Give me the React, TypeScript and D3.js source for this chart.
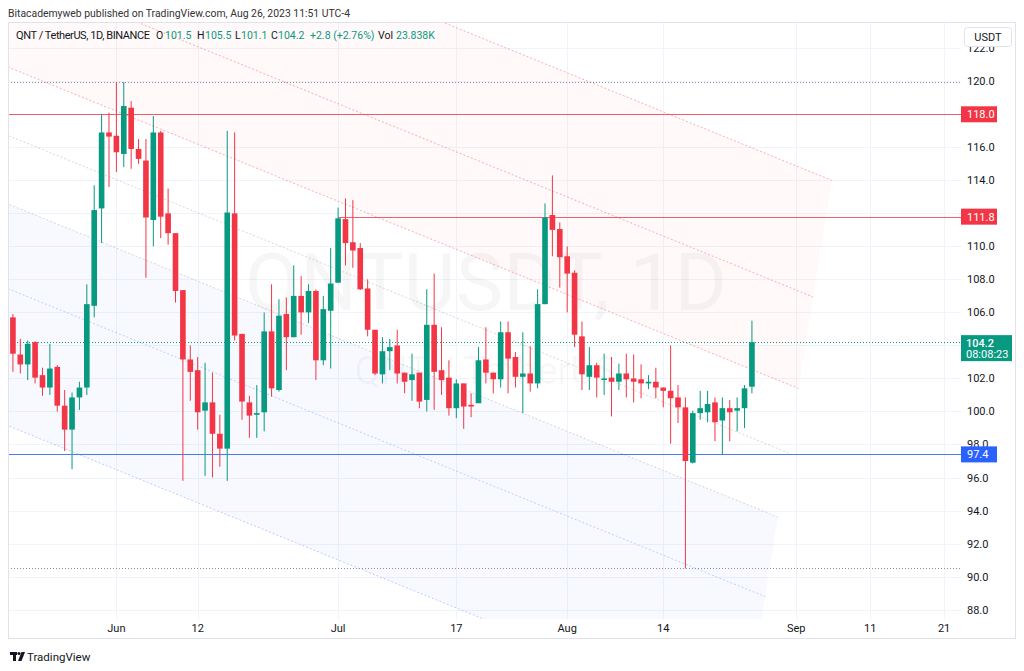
import React, { useEffect, useRef } from "react";
import * as d3 from "d3";

const DAY = 864e5;
const FONT = "Roboto, 'Liberation Sans', sans-serif";
const GREEN = "#089981";
const RED = "#f23645";
const BLUE = "#2962ff";
const TEXT = "#131722";

// daily candles QNT/USDT, first candle 2023-05-18
const firstDay = Date.UTC(2023, 4, 18);
const opens = [
  105.7, 103.45, 102.85, 104.2, 102.2, 101.45, 102.7, 100.35, 98.9, 100.85,
  101.45, 106.4, 112.3, 116.9, 116.7, 115.6, 118.4, 115.9, 115.2, 111.6,
  116.9, 112.0, 110.8, 107.35, 103.15, 102.5, 100.05, 100.55, 98.65, 97.75,
  112.0, 104.7, 100.55, 99.8, 99.95, 104.85, 101.3, 105.9, 104.5, 107.0,
  106.0, 107.3, 103.1, 106.1, 107.8, 111.65, 110.25, 109.9, 107.45, 104.95,
  102.25, 103.65, 104.0, 102.35, 101.9, 102.35, 100.7, 105.25, 102.5, 102.05,
  100.2, 101.7, 100.4, 100.5, 103.15, 102.35, 101.95, 104.8, 103.3, 102.1,
  102.3, 101.7, 106.5, 111.9, 111.05, 109.4, 108.4, 104.55, 102.1, 102.8,
  101.95, 102.05, 101.8, 102.3, 102.0, 101.95, 101.7, 101.8, 101.45, 101.25,
  100.85, 100.25, 96.9, 99.9, 99.95, 100.55, 99.45, 100.2, 100.05, 100.2, 101.5,
];
const highs = [
  105.9, 104.4, 104.3, 104.25, 102.65, 104.1, 102.8, 101.3, 101.15, 101.8,
  107.7, 113.7, 118.0, 118.1, 119.95, 119.95, 118.8, 116.5, 116.5, 117.9,
  117.0, 113.5, 110.8, 107.35, 104.0, 103.3, 102.95, 102.35, 99.8, 117.0,
  116.9, 104.7, 100.95, 101.6, 106.0, 107.7, 106.8, 106.9, 108.85, 108.2,
  107.7, 107.4, 107.0, 109.9, 112.35, 112.9, 112.8, 110.2, 108.0, 104.95,
  104.5, 104.4, 104.95, 102.35, 103.5, 102.35, 107.4, 108.35, 105.1, 103.1,
  101.95, 101.7, 101.1, 103.9, 105.1, 102.35, 105.45, 105.45, 103.6, 104.8,
  103.95, 107.4, 112.6, 114.3, 111.45, 110.0, 108.55, 105.45, 103.9, 102.95,
  103.5, 103.3, 102.9, 103.5, 103.45, 102.85, 102.2, 102.65, 101.45, 104.0,
  101.6, 100.85, 100.05, 101.25, 101.25, 100.85, 100.85, 100.7, 100.85, 101.6, 105.5,
];
const lows = [
  102.4, 102.3, 101.9, 101.7, 100.95, 101.0, 100.0, 97.6, 96.5, 100.1,
  101.0, 105.7, 110.2, 113.6, 114.5, 114.8, 114.7, 115.0, 108.1, 110.0,
  110.5, 110.1, 106.6, 95.8, 100.65, 98.9, 96.1, 96.0, 96.65, 95.8,
  104.3, 99.5, 98.4, 98.4, 98.8, 100.9, 101.2, 102.5, 104.5, 104.65,
  105.35, 101.9, 102.8, 102.6, 107.8, 108.85, 108.7, 107.35, 104.55, 102.2,
  101.7, 102.5, 101.7, 101.1, 100.65, 100.2, 100.0, 100.1, 101.0, 99.75,
  99.6, 98.95, 99.65, 100.5, 101.7, 101.1, 101.45, 101.1, 101.45, 99.9,
  101.2, 101.4, 106.5, 109.4, 107.5, 106.0, 103.9, 101.3, 101.3, 100.85,
  101.0, 99.7, 101.3, 100.85, 100.55, 100.8, 101.35, 100.8, 100.25, 98.05,
  99.3, 90.5, 96.85, 99.5, 99.35, 98.2, 97.4, 98.2, 98.8, 99.0, 101.1,
];
const closes = [
  103.5, 102.85, 104.1, 102.05, 101.45, 102.6, 100.35, 98.9, 100.85, 101.45,
  106.5, 112.2, 116.9, 116.65, 115.7, 118.5, 115.9, 115.3, 111.75, 116.9,
  111.8, 110.8, 107.3, 103.15, 102.4, 99.95, 100.55, 98.65, 97.75, 112.05,
  104.6, 100.6, 99.75, 99.9, 104.85, 101.4, 105.8, 104.5, 107.0, 106.0,
  107.3, 103.1, 106.2, 107.75, 111.7, 110.2, 109.75, 107.4, 104.95, 102.3,
  103.65, 103.9, 102.3, 101.8, 102.25, 100.6, 105.25, 102.4, 101.9, 100.2,
  101.7, 100.3, 100.3, 103.1, 102.35, 101.95, 104.8, 103.2, 102.1, 102.3,
  101.7, 106.5, 111.75, 111.0, 109.35, 108.35, 104.65, 102.25, 102.8, 102.05,
  102.0, 101.8, 102.3, 101.95, 101.8, 101.7, 101.8, 101.45, 101.25, 100.8,
  100.25, 97.0, 99.9, 100.2, 100.45, 99.35, 100.2, 99.95, 100.2, 101.4, 104.2,
];

const volumeLabel = "23.838K";
const countdown = "08:08:23";

const timeTicks = [
  "2023-06-01", "2023-06-12", "2023-07-01", "2023-07-17", "2023-08-01",
  "2023-08-14", "2023-09-01", "2023-09-11", "2023-09-21",
];
const timeTickLabels = ["Jun", "12", "Jul", "17", "Aug", "14", "Sep", "11", "21"];
const priceTicks = d3.range(88, 123, 2);

// horizontal lines drawn on the chart
const levelPrices = [118.0, 111.8, 97.4];
const levelStarts = [null, "2023-07-01", null];
const levelColors = [RED, RED, BLUE];
const rangeHigh = 119.95;
const rangeLow = 90.5;

// fib channel: base line + shift of level 1
const fibStart = { date: "2023-05-03", price: 101.75 };
const fibEnd = { date: "2023-08-25", price: 81.0 };
const fibShiftDays = 11.8;
const fibShiftPrice = 33.0;
const fibLevels = [0, 0.236, 0.382, 0.5, 0.618, 0.786, 1];
const fibLineColors = [
  "rgba(41,98,255,0.3)", "rgba(41,98,255,0.28)", "rgba(120,123,134,0.3)",
  "rgba(120,123,134,0.3)", "rgba(242,54,69,0.4)", "rgba(242,54,69,0.4)", "rgba(242,54,69,0.4)",
];
const fibBandFills = [
  "rgba(41,98,255,0.035)", "rgba(41,98,255,0.035)", "none", "none",
  "rgba(242,54,69,0.03)", "rgba(242,54,69,0.03)",
];

const W = 1024;
const H = 671;
const plot = { left: 8, right: 961, top: 23, bottom: 619 };

const App = () => {
  const svgRef = useRef<SVGSVGElement>(null);

  useEffect(() => {
    const svg = d3.select(svgRef.current);
    svg.selectAll("*").remove();
    svg.attr("width", W).attr("height", H).style("font-family", FONT);

    const x = d3
      .scaleUtc()
      .domain([new Date(Date.UTC(2023, 4, 17, 8)), new Date(Date.UTC(2023, 8, 23, 7))])
      .range([plot.left, plot.right]);
    const y = d3.scaleLinear().domain([87.43, 123.53]).range([plot.bottom, plot.top]);

    const dates = opens.map((_, i) => new Date(firstDay + i * DAY));
    const step = x(dates[1]) - x(dates[0]);
    const bodyW = step * 0.76;
    const last = closes.length - 1;

    svg.append("rect").attr("width", W).attr("height", H).attr("fill", "#fff");

    // published caption
    svg
      .append("text")
      .attr("x", 8)
      .attr("y", 17)
      .attr("font-size", 10.4)
      .attr("fill", "#333")
      .text("Bitacademyweb published on TradingView.com, Aug 26, 2023 11:51 UTC-4");

    svg
      .append("defs")
      .append("clipPath")
      .attr("id", "plot-clip")
      .append("rect")
      .attr("x", plot.left)
      .attr("y", plot.top)
      .attr("width", plot.right - plot.left)
      .attr("height", plot.bottom - plot.top);

    const g = svg.append("g").attr("clip-path", "url(#plot-clip)");

    // grid
    g.append("g")
      .selectAll("line")
      .data(priceTicks)
      .join("line")
      .attr("x1", plot.left)
      .attr("x2", plot.right)
      .attr("y1", (d) => Math.round(y(d)) + 0.5)
      .attr("y2", (d) => Math.round(y(d)) + 0.5)
      .attr("stroke", "#f0f3fa");
    g.append("g")
      .selectAll("line")
      .data(timeTicks)
      .join("line")
      .attr("x1", (d) => Math.round(x(new Date(d))) + 0.5)
      .attr("x2", (d) => Math.round(x(new Date(d))) + 0.5)
      .attr("y1", plot.top)
      .attr("y2", plot.bottom)
      .attr("stroke", "#f0f3fa");

    // watermark
    g.append("text")
      .attr("x", 486)
      .attr("y", 310)
      .attr("text-anchor", "middle")
      .attr("font-size", 80)
      .attr("fill", "rgba(19,23,34,0.04)")
      .text("QNTUSDT, 1D");
    g.append("text")
      .attr("x", 486)
      .attr("y", 384)
      .attr("text-anchor", "middle")
      .attr("font-size", 38)
      .attr("fill", "rgba(19,23,34,0.04)")
      .text("QNT / TetherUS");

    // fib channel
    const t0 = +new Date(fibStart.date);
    const t1 = +new Date(fibEnd.date);
    const fibPt = (k: number, end: boolean): [number, number] => [
      x(new Date((end ? t1 : t0) + k * fibShiftDays * DAY)),
      y((end ? fibEnd.price : fibStart.price) + k * fibShiftPrice),
    ];
    const bands = fibBandFills.map((fill, i) => ({ fill, a: fibLevels[i], b: fibLevels[i + 1] }));
    g.append("g")
      .selectAll("path")
      .data(bands.filter((d) => d.fill !== "none"))
      .join("path")
      .attr("d", (d) =>
        d3.line()([fibPt(d.a, false), fibPt(d.a, true), fibPt(d.b, true), fibPt(d.b, false)]) + "Z"
      )
      .attr("fill", (d) => d.fill);
    g.append("g")
      .selectAll("line")
      .data(fibLevels)
      .join("line")
      .attr("x1", (k) => fibPt(k, false)[0])
      .attr("y1", (k) => fibPt(k, false)[1])
      .attr("x2", (k) => fibPt(k, true)[0])
      .attr("y2", (k) => fibPt(k, true)[1])
      .attr("stroke", (_, i) => fibLineColors[i])
      .attr("stroke-dasharray", "2,2");

    // high / low markers
    g.append("g")
      .selectAll("line")
      .data([rangeHigh, rangeLow])
      .join("line")
      .attr("x1", plot.left)
      .attr("x2", plot.right)
      .attr("y1", (d) => Math.round(y(d)) + 0.5)
      .attr("y2", (d) => Math.round(y(d)) + 0.5)
      .attr("stroke", "#8a8e9b")
      .attr("stroke-dasharray", "1,2");

    // horizontal levels
    g.append("g")
      .selectAll("line")
      .data(levelPrices)
      .join("line")
      .attr("x1", (_, i) => (levelStarts[i] ? x(new Date(levelStarts[i] as string)) : plot.left))
      .attr("x2", plot.right)
      .attr("y1", (d) => Math.round(y(d)) + 0.5)
      .attr("y2", (d) => Math.round(y(d)) + 0.5)
      .attr("stroke", (_, i) => levelColors[i])
      .attr("stroke-opacity", (_, i) => (i === 2 ? 0.85 : 0.8));

    // last price line
    g.append("line")
      .attr("x1", plot.left)
      .attr("x2", plot.right)
      .attr("y1", Math.round(y(closes[last])) + 0.5)
      .attr("y2", Math.round(y(closes[last])) + 0.5)
      .attr("stroke", GREEN)
      .attr("stroke-dasharray", "1,2");

    // candles
    const candles = dates.map((d, i) => ({
      d,
      o: opens[i],
      h: highs[i],
      l: lows[i],
      c: closes[i],
    }));
    const cg = g.append("g").selectAll("g").data(candles).join("g");
    cg.append("line")
      .attr("x1", (d) => x(d.d))
      .attr("x2", (d) => x(d.d))
      .attr("y1", (d) => y(d.h))
      .attr("y2", (d) => y(d.l))
      .attr("stroke", (d) => (d.c >= d.o ? GREEN : RED))
      .attr("stroke-width", 1);
    cg.append("rect")
      .attr("x", (d) => x(d.d) - bodyW / 2)
      .attr("width", bodyW)
      .attr("y", (d) => y(Math.max(d.o, d.c)))
      .attr("height", (d) => Math.max(1.5, Math.abs(y(d.o) - y(d.c))))
      .attr("fill", (d) => (d.c >= d.o ? GREEN : RED));

    // legend
    const chg = closes[last] - closes[last - 1];
    const pct = (chg / closes[last - 1]) * 100;
    const legendParts: [string, string, number][] = [
      ["QNT / TetherUS, 1D, BINANCE", TEXT, 16],
      ["O", TEXT, 156],
      [opens[last].toFixed(1), GREEN, 165],
      ["H", TEXT, 197],
      [highs[last].toFixed(1), GREEN, 205],
      ["L", TEXT, 235],
      [lows[last].toFixed(1), GREEN, 241],
      ["C", TEXT, 271],
      [closes[last].toFixed(1), GREEN, 278],
      [`+${chg.toFixed(1)} (+${pct.toFixed(2)}%)`, GREEN, 310],
      ["Vol", TEXT, 378],
      [volumeLabel, GREEN, 396],
    ];
    const legend = svg
      .append("g")
      .selectAll("text")
      .data(legendParts)
      .join("text")
      .attr("x", (d) => d[2])
      .attr("y", 39)
      .attr("font-size", (_, i) => (i === 0 ? 11 : 10.5))
      .attr("fill", (d) => d[1])
      .text((d) => d[0]);
    legend.filter((_, i) => i === 0).attr("textLength", 134).attr("lengthAdjust", "spacing");

    // frame
    svg
      .append("rect")
      .attr("x", 8.5)
      .attr("y", 22.5)
      .attr("width", 1007)
      .attr("height", 616)
      .attr("fill", "none")
      .attr("stroke", "#e0e3eb");

    // price axis labels (those hidden under a price box are left out)
    const boxPrices = [...levelPrices, closes[last]];
    svg
      .append("g")
      .selectAll("text")
      .data(priceTicks.filter((t) => boxPrices.every((p) => Math.abs(y(t) - y(p)) > 7)))
      .join("text")
      .attr("x", 967)
      .attr("y", (d) => y(d) + 4)
      .attr("font-size", 11)
      .attr("fill", TEXT)
      .text((d) => d.toFixed(1));

    // level boxes
    const boxes = svg.append("g").selectAll("g").data(levelPrices).join("g");
    boxes
      .append("rect")
      .attr("x", 961)
      .attr("y", (d) => y(d) - 8)
      .attr("width", 36)
      .attr("height", 16)
      .attr("fill", (_, i) => levelColors[i]);
    boxes
      .append("text")
      .attr("x", 967)
      .attr("y", (d) => y(d) + 4)
      .attr("font-size", 11)
      .attr("fill", "#fff")
      .text((d) => d.toFixed(1));

    // last price box
    const ly = y(closes[last]);
    svg
      .append("rect")
      .attr("x", 961)
      .attr("y", ly - 7)
      .attr("width", 51)
      .attr("height", 26)
      .attr("fill", GREEN);
    svg
      .append("text")
      .attr("x", 966)
      .attr("y", ly + 5)
      .attr("font-size", 11)
      .attr("font-weight", 500)
      .attr("fill", "#fff")
      .text(closes[last].toFixed(1));
    svg
      .append("text")
      .attr("x", 966)
      .attr("y", ly + 16)
      .attr("font-size", 11)
      .attr("fill", "#fff")
      .text(countdown);

    // USDT box
    svg
      .append("rect")
      .attr("x", 964.5)
      .attr("y", 27.5)
      .attr("width", 47)
      .attr("height", 19)
      .attr("rx", 3)
      .attr("fill", "#fff")
      .attr("stroke", "#e0e3eb");
    svg
      .append("text")
      .attr("x", 988)
      .attr("y", 41)
      .attr("text-anchor", "middle")
      .attr("font-size", 11)
      .attr("fill", TEXT)
      .text("USDT");

    // time axis labels
    svg
      .append("g")
      .selectAll("text")
      .data(timeTicks)
      .join("text")
      .attr("x", (d) => x(new Date(d)))
      .attr("y", 632)
      .attr("text-anchor", "middle")
      .attr("font-size", 11)
      .attr("fill", TEXT)
      .text((_, i) => timeTickLabels[i]);

    // TradingView logo
    const logo = svg.append("g").attr("fill", TEXT);
    logo.append("rect").attr("x", 10).attr("y", 652).attr("width", 7).attr("height", 3);
    logo.append("rect").attr("x", 13).attr("y", 652).attr("width", 3).attr("height", 9);
    logo.append("circle").attr("cx", 19).attr("cy", 653.5).attr("r", 1.6);
    logo.append("path").attr("d", "M21.5,652 L25,652 L21.5,661 L18,661 Z");
    svg
      .append("text")
      .attr("x", 27)
      .attr("y", 661)
      .attr("font-size", 11.5)
      .attr("fill", TEXT)
      .text("TradingView");
  }, []);

  return (
    <div style={{ position: "absolute", left: 0, top: 0 }}>
      <svg ref={svgRef} style={{ display: "block" }} />
    </div>
  );
};

export default App;
